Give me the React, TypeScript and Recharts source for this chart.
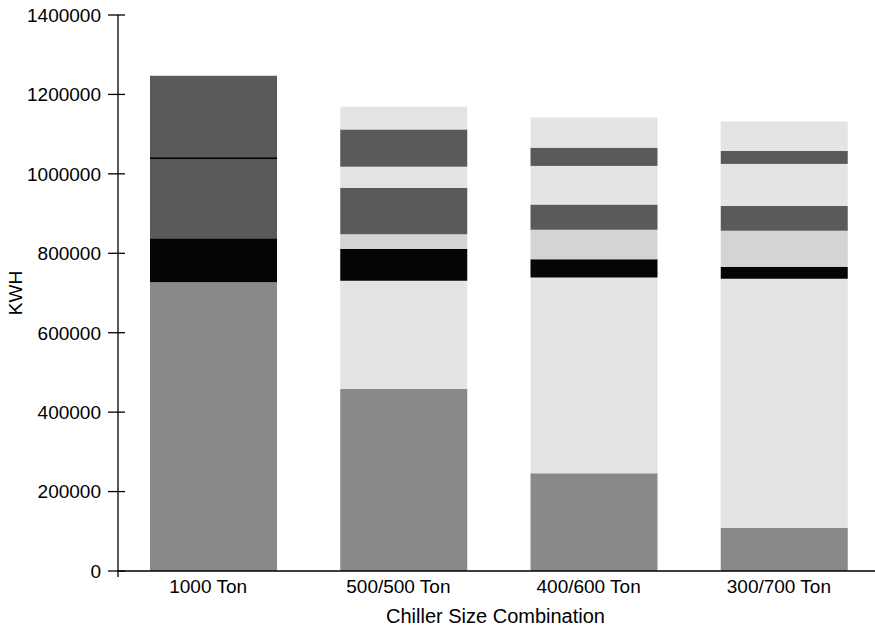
import React from 'react';
import { BarChart, Bar, XAxis, YAxis, Label } from 'recharts';

const categories = ['1000 Ton', '500/500 Ton', '400/600 Ton', '300/700 Ton'];
const chillerBase = [727000, 458000, 246000, 109000];
const light1 = [0, 273000, 493000, 627000];
const blackSeg = [111000, 80000, 46000, 30000];
const light2 = [0, 37000, 74000, 91000];
const dark1 = [201000, 117000, 64000, 62000];
const light3 = [0, 53000, 97000, 106000];
const dark2 = [208000, 94000, 46000, 33000];
const light4 = [0, 57000, 76000, 74000];
const yTicks = [0, 200000, 400000, 600000, 800000, 1000000, 1200000, 1400000];

const data = categories.map((name, i) => ({
  name,
  chillerBase: chillerBase[i],
  light1: light1[i],
  blackSeg: blackSeg[i],
  light2: light2[i],
  dark1: dark1[i],
  light3: light3[i],
  dark2: dark2[i],
  light4: light4[i],
}));

const FONT = '"Liberation Sans", Arial, Helvetica, sans-serif';
const FS = 19;

const YTick = (props: any) => {
  const { x, y, payload } = props;
  return (
    <g>
      <line x1={x - 10} x2={x + 7} y1={y} y2={y} stroke="#000" strokeWidth={1.3} />
      {payload.value === 0 && <line x1={x} x2={x} y1={y} y2={y + 6} stroke="#000" strokeWidth={1.3} />}
      <text x={x - 17} y={y + 6.8} textAnchor="end" fontSize={FS} fontFamily={FONT} fill="#000">
        {payload.value}
      </text>
    </g>
  );
};

const XTick = (props: any) => {
  const { x, y, payload } = props;
  return (
    <text x={x - 5} y={y + 22} textAnchor="middle" fontSize={FS} fontFamily={FONT} fill="#000">
      {payload.value}
    </text>
  );
};

const Dark2Shape = (props: any) => {
  const { x, y, width, height, fill, payload } = props;
  if (!height) return null;
  return (
    <g>
      <rect x={x} y={y} width={width} height={height} fill={fill} />
      {payload.light3 === 0 && (
        <line x1={x} x2={x + width} y1={y + height} y2={y + height} stroke="#000" strokeWidth={1.5} />
      )}
    </g>
  );
};

export default function App() {
  return (
    <div style={{ position: 'absolute', left: 0, top: 0, width: 875, height: 626, overflow: 'hidden', background: '#fff' }}>
      <BarChart
        width={880}
        height={626}
        data={data}
        margin={{ top: 15, right: 1, bottom: 0, left: 0 }}
        barSize={127}
      >
        <XAxis
          dataKey="name"
          tickLine={false}
          tickSize={0}
          tickMargin={0}
          tick={<XTick />}
          axisLine={{ stroke: '#000', strokeWidth: 1.6 }}
          height={55}
        >
          <Label
            value="Chiller Size Combination"
            position="insideBottom"
            offset={3}
            dx={-3}
            style={{ fontSize: 20, fontFamily: FONT, fill: '#000' }}
          />
        </XAxis>
        <YAxis
          width={118}
          domain={[0, 1400000]}
          ticks={yTicks}
          interval={0}
          tickLine={false}
          tickSize={0}
          tickMargin={0}
          tick={<YTick />}
          axisLine={{ stroke: '#000', strokeWidth: 1.3 }}
        >
          <Label
            value="KWH"
            angle={-90}
            position="insideLeft"
            offset={15}
            style={{ fontSize: FS, fontFamily: FONT, fill: '#000', textAnchor: 'middle' }}
          />
        </YAxis>
        <Bar dataKey="chillerBase" stackId="a" fill="#898989" isAnimationActive={false} />
        <Bar dataKey="light1" stackId="a" fill="#e4e4e4" isAnimationActive={false} />
        <Bar dataKey="blackSeg" stackId="a" fill="#050505" isAnimationActive={false} />
        <Bar dataKey="light2" stackId="a" fill="#d4d4d4" isAnimationActive={false} />
        <Bar dataKey="dark1" stackId="a" fill="#5a5a5a" isAnimationActive={false} />
        <Bar dataKey="light3" stackId="a" fill="#e4e4e4" isAnimationActive={false} />
        <Bar dataKey="dark2" stackId="a" fill="#5a5a5a" isAnimationActive={false} shape={<Dark2Shape />} />
        <Bar dataKey="light4" stackId="a" fill="#e4e4e4" isAnimationActive={false} />
      </BarChart>
    </div>
  );
}
